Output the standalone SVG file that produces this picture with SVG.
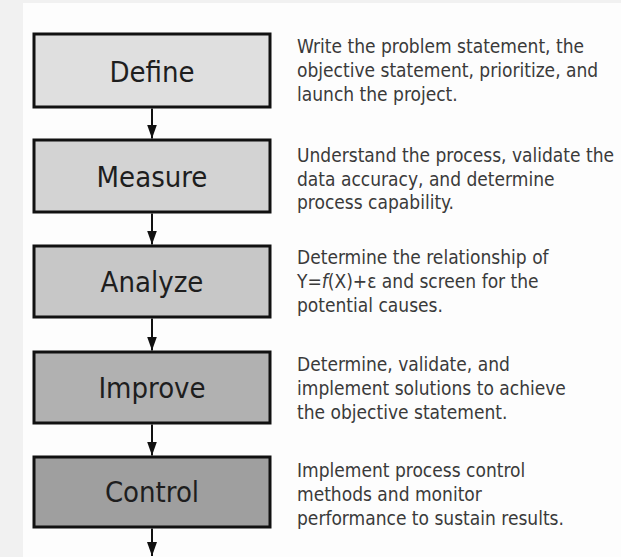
<svg xmlns="http://www.w3.org/2000/svg" width="621" height="557" viewBox="0 0 621 557">
<style>
.box{stroke:#111;stroke-width:3}
.lbl{font-family:"DejaVu Sans Condensed","DejaVu Sans",sans-serif;font-stretch:condensed;font-size:29px;fill:#1e1e1e;text-anchor:middle}
.desc{font-family:"DejaVu Sans Condensed","DejaVu Sans",sans-serif;font-stretch:condensed;font-size:19px;fill:#3a3a3a}
.conn{stroke:#111;stroke-width:2;fill:none;marker-end:url(#ah)}
</style>
<defs>
<marker id="ah" markerUnits="userSpaceOnUse" markerWidth="14" markerHeight="10" viewBox="0 0 14 10" refX="14" refY="5" orient="auto">
<path d="M0,0 L14,5 L0,10 Z" fill="#111"/>
</marker>
</defs>
<rect x="0" y="0" width="621" height="557" fill="#fdfdfd"/>
<rect x="0" y="0" width="23" height="557" fill="#f1f1f1"/>
<rect x="0" y="0" width="621" height="3" fill="#f1f1f1"/>
<g id="define">
<rect class="box" x="34" y="34" width="236" height="73" fill="#dfdfdf"/>
<text class="lbl" x="152" y="82">Define</text>
<text class="desc" x="297" y="53">Write the problem statement, the</text>
<text class="desc" x="297" y="77">objective statement, prioritize, and</text>
<text class="desc" x="297" y="101">launch the project.</text>
</g>
<g id="measure">
<rect class="box" x="34" y="140" width="236" height="72" fill="#d3d3d3"/>
<text class="lbl" x="152" y="187">Measure</text>
<text class="desc" x="297" y="162">Understand the process, validate the</text>
<text class="desc" x="297" y="186">data accuracy, and determine</text>
<text class="desc" x="297" y="209">process capability.</text>
</g>
<g id="analyze">
<rect class="box" x="34" y="246" width="236" height="71" fill="#c7c7c7"/>
<text class="lbl" x="152" y="292">Analyze</text>
<text class="desc" x="297" y="264">Determine the relationship of</text>
<text class="desc" x="297" y="288">Y=<tspan font-style="italic">f</tspan>(X)+ε and screen for the</text>
<text class="desc" x="297" y="312">potential causes.</text>
</g>
<g id="improve">
<rect class="box" x="34" y="352" width="236" height="71" fill="#b1b1b1"/>
<text class="lbl" x="152" y="398">Improve</text>
<text class="desc" x="297" y="371">Determine, validate, and</text>
<text class="desc" x="297" y="395">implement solutions to achieve</text>
<text class="desc" x="297" y="419">the objective statement.</text>
</g>
<g id="control">
<rect class="box" x="34" y="457" width="236" height="70" fill="#9f9f9f"/>
<text class="lbl" x="152" y="502">Control</text>
<text class="desc" x="297" y="477">Implement process control</text>
<text class="desc" x="297" y="501">methods and monitor</text>
<text class="desc" x="297" y="525">performance to sustain results.</text>
</g>
<g id="connectors">
<path class="conn" d="M152,108.5 V138.5"/>
<path class="conn" d="M152,213.5 V244.5"/>
<path class="conn" d="M152,318.5 V350.5"/>
<path class="conn" d="M152,424.5 V455.5"/>
<path class="conn" d="M152,528.5 V556"/>
</g>
</svg>
